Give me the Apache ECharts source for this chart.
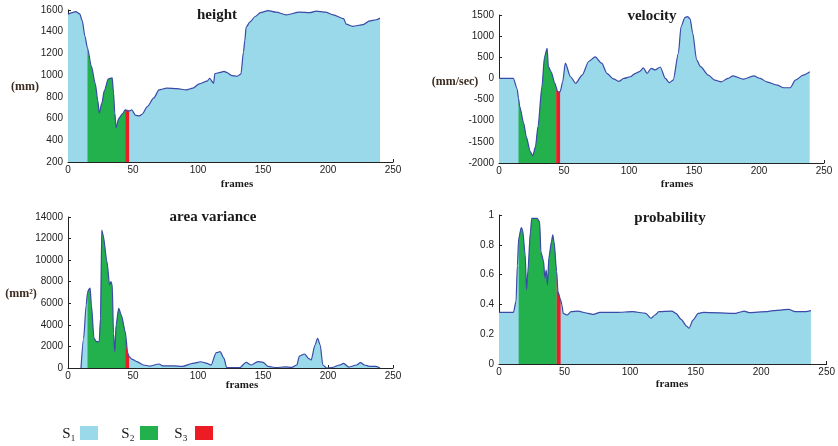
<!DOCTYPE html>
<html>
<head>
<meta charset="utf-8">
<title>fall detection features</title>
<script src="https://cdn.jsdelivr.net/npm/echarts@6.0.0/dist/echarts.min.js"></script>
<style>
    html, body {margin: 0; padding: 0; background: #fff;}
    #main {width: 838px; height: 446px;}
</style>
</head>
<body>
<div id="main"></div>
<script>
//每个面板的数据 [frame, value]
var heightData = [
    [0,1560],[3,1575],[6,1585],[9,1565],[11,1500],[13,1360],[15,1250],[18,1080],[21,920],[23,760],
    [24,650],[26,740],[28,860],[31,965],[34,975],[35,840],[36,650],[37,515],[39,600],[42,645],
    [44,680],[47,670],[49,680],[52,630],[55,625],[57,640],[61,710],[66,790],[70,865],[76,880],
    [84,875],[91,865],[96,880],[101,920],[107,945],[109,970],[112,925],[113,1015],[117,1025],[120,1035],
    [122,1025],[126,995],[130,990],[133,1010],[135,1215],[136,1320],[137,1440],[140,1490],[144,1540],[148,1575],
    [154,1595],[160,1580],[168,1555],[178,1580],[186,1575],[191,1590],[198,1580],[204,1555],[212,1520],[214,1470],
    [219,1450],[227,1465],[232,1500],[237,1510],[240,1525]
];

var velocityData = [
    [0,0],[5,0],[11,0],[14,-250],[15,-470],[16,-670],[19,-1060],[21,-1380],[24,-1730],[26,-1830],
    [28,-1620],[30,-1140],[33,-200],[35,510],[37,710],[38,280],[40,160],[43,-115],[44,-200],[45,-315],
    [47,-315],[49,-80],[51,360],[55,40],[59,-115],[64,80],[69,400],[74,510],[79,360],[83,120],
    [88,-10],[92,-70],[96,0],[101,40],[105,120],[108,160],[111,250],[114,120],[117,240],[120,200],
    [124,270],[128,0],[131,-100],[134,-40],[138,600],[140,1220],[143,1440],[145,1460],[147,1410],[149,1070],
    [152,440],[155,280],[161,80],[166,-40],[171,-80],[176,0],[180,60],[188,-15],[196,60],[201,0],
    [206,-80],[214,-160],[219,-220],[224,-220],[228,-40],[234,80],[239,160]
];

var areaData = [
    [10,0],[12,2750],[14,5840],[15,7000],[16,7300],[17,7400],[18,5840],[20,2750],[22,2440],[24,2440],
    [25,4600],[26,12790],[27,12330],[30,9850],[32,7690],[33,8000],[34,7700],[35,3200],[36,1500],[37,3990],
    [39,5530],[41,4910],[44,3370],[46,1360],[47,1050],[49,830],[53,590],[58,280],[63,180],[70,370],
    [73,200],[81,200],[88,150],[96,430],[102,580],[107,430],[110,260],[114,1420],[117,1510],[120,900],
    [122,50],[126,30],[132,30],[137,530],[141,280],[146,590],[150,530],[154,150],[160,40],[167,100],
    [172,60],[176,280],[178,1110],[182,1300],[185,900],[187,740],[190,2130],[192,2750],[194,2130],[196,280],
    [199,0],[203,30],[209,280],[212,430],[216,80],[222,280],[225,500],[228,280],[232,150],[237,150],[240,0]
];

var probData = [
    [0,0.347],[5,0.347],[11,0.347],[13,0.42],[14,0.66],[15,0.84],[17,0.915],[18,0.9],[20,0.73],[21,0.5],
    [22,0.62],[24,0.89],[25,0.978],[29,0.978],[31,0.955],[32,0.75],[34,0.69],[35,0.575],[36,0.63],[37,0.53],
    [38,0.71],[40,0.82],[41,0.866],[42,0.82],[44,0.62],[45,0.485],[47,0.43],[48,0.396],[49,0.34],[52,0.329],
    [55,0.351],[60,0.355],[68,0.34],[72,0.333],[77,0.347],[90,0.347],[102,0.351],[112,0.34],[116,0.307],[119,0.329],
    [122,0.351],[132,0.355],[135,0.34],[139,0.3],[143,0.255],[145,0.24],[148,0.295],[152,0.34],[156,0.347],[181,0.34],
    [183,0.347],[187,0.355],[191,0.345],[204,0.351],[209,0.358],[215,0.362],[221,0.367],[226,0.351],[234,0.351],[238,0.358]
];

//各阶段的帧范围
var s2Range = [15, 44];
var s3Range = [44, 47];

var panelTitles = ['height', 'velocity', 'area variance', 'probability'];
var unitNames = ['(mm)', '(mm/sec)', '(mm\u00b2)', ''];
var legendNames = ['S\u2081', 'S\u2082', 'S\u2083'];

//y轴 [min, max, interval]
var yRanges = [[200, 1600, 200], [-2000, 1500, 500], [0, 14000, 2000], [0, 1, 0.2]];
var xTicks = [0, 250, 50];

var colors = {s1: '#99D9EA', s2: '#22B14C', s3: '#ED1C24', line: '#3B4AA6'};
var serif = '"Liberation Serif", "DejaVu Serif", serif';
var sans = '"Liberation Sans", Arial, sans-serif';

var grids = [
    {left: 68, right: 445, top: 10, bottom: 284},
    {left: 499, right: 14, top: 15, bottom: 283},
    {left: 68, right: 445, top: 217, bottom: 78},
    {left: 499, right: 10, top: 215, bottom: 82}
];

var allData = [heightData, velocityData, areaData, probData];

function inRange(data, r) {
    return data.filter(function (p) { return p[0] >= r[0] && p[0] <= r[1]; });
}

//不要千分位
function plain(v) {
    return String(v);
}

var xAxes = [], yAxes = [], series = [];

allData.forEach(function (data, i) {
    xAxes.push({
        type: 'value', gridIndex: i,
        min: xTicks[0], max: xTicks[1], interval: xTicks[2],
        splitLine: {show: false},
        axisLine: {onZero: false, lineStyle: {color: '#222', width: 1}},
        axisTick: {inside: true, length: 3, lineStyle: {color: '#222'}},
        axisLabel: {color: '#222', fontSize: 10, fontFamily: sans, margin: 3, formatter: plain}
    });
    yAxes.push({
        type: 'value', gridIndex: i,
        min: yRanges[i][0], max: yRanges[i][1], interval: yRanges[i][2],
        splitLine: {show: false},
        axisLine: {show: true, onZero: false, lineStyle: {color: '#222', width: 1}},
        axisTick: {show: true, inside: true, length: 3, lineStyle: {color: '#222'}},
        axisLabel: {color: '#222', fontSize: 10, fontFamily: sans, margin: 5, formatter: plain}
    });

    var base = {
        type: 'line', xAxisIndex: i, yAxisIndex: i,
        showSymbol: false, symbol: 'none', silent: true, animation: false,
        smooth: 0.25, smoothMonotone: 'x'
    };

    series.push(Object.assign({}, base, {
        name: legendNames[0], data: data, color: colors.s1,
        lineStyle: {width: 0},
        areaStyle: {color: colors.s1, opacity: 1, origin: 'start'}
    }));
    series.push(Object.assign({}, base, {
        name: legendNames[1], data: inRange(data, s2Range), color: colors.s2,
        lineStyle: {width: 0},
        areaStyle: {color: colors.s2, opacity: 1, origin: 'start'}
    }));
    series.push(Object.assign({}, base, {
        name: legendNames[2], data: inRange(data, s3Range), color: colors.s3,
        lineStyle: {width: 0},
        areaStyle: {color: colors.s3, opacity: 1, origin: 'start'}
    }));
    //蓝色轮廓线
    series.push(Object.assign({}, base, {
        name: 'outline' + i, data: data, color: colors.line,
        lineStyle: {width: 1.2, color: colors.line}
    }));
});

//标题，单位，frames
function label(text, x, y, font, color) {
    return {
        type: 'text', x: x, y: y, silent: true,
        style: {text: text, font: font, fill: color || '#1a1a1a', textAlign: 'center', textVerticalAlign: 'middle'}
    };
}

var titlePos = [[217, 15], [652, 16], [213, 217], [670, 218]];
var unitPos = [[25, 87], [455, 82], [21, 294]];
var framesPos = [[237, 184], [677, 184], [242, 385], [672, 384]];

var graphics = [];
panelTitles.forEach(function (t, i) {
    graphics.push(label(t, titlePos[i][0], titlePos[i][1], 'bold 15px ' + serif));
    graphics.push(label('frames', framesPos[i][0], framesPos[i][1], 'bold 11px ' + serif));
    if (unitNames[i]) graphics.push(label(unitNames[i], unitPos[i][0], unitPos[i][1], 'bold 12px ' + serif, '#3b2b20'));
});

//图例
var legendText = [69, 128, 181];
var legendBox = [80, 140, 195];
var legendColors = [colors.s1, colors.s2, colors.s3];
legendNames.forEach(function (n, i) {
    graphics.push(label(n, legendText[i], 434, '15px ' + serif, '#1a1a1a'));
    graphics.push({
        type: 'rect', silent: true,
        shape: {x: legendBox[i], y: 426, width: 18, height: 14},
        style: {fill: legendColors[i]}
    });
});

var chart = echarts.init(document.getElementById('main'), null, {renderer: 'canvas'});
chart.setOption({
    animation: false,
    backgroundColor: '#fff',
    grid: grids,
    xAxis: xAxes,
    yAxis: yAxes,
    series: series,
    graphic: graphics
});
</script>
</body>
</html>
